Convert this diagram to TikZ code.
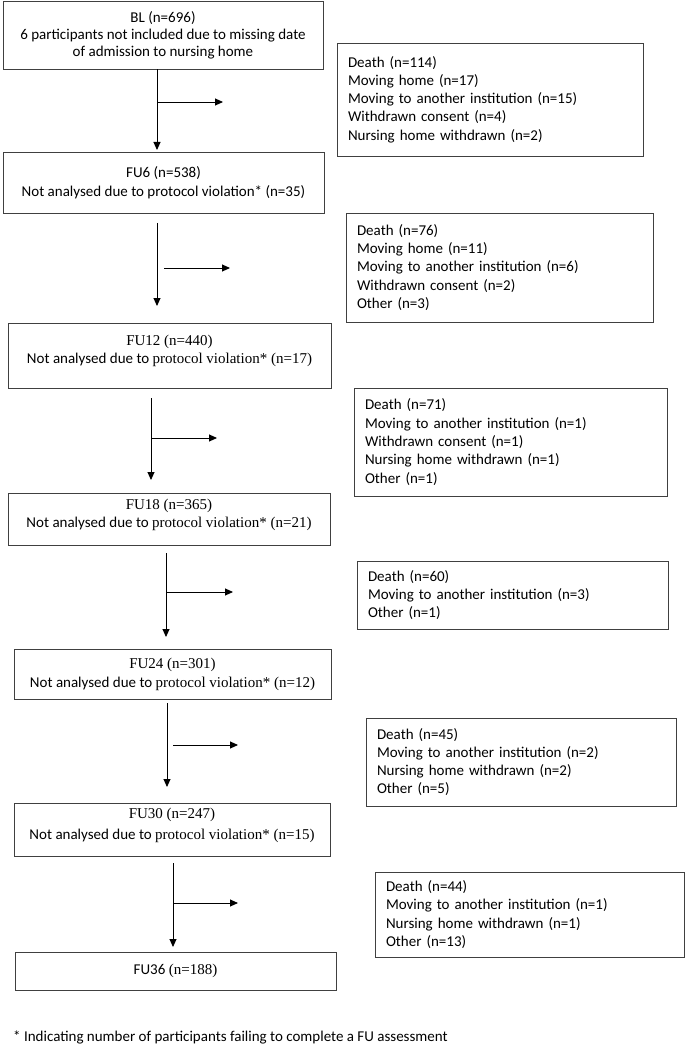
\documentclass[tikz,border=0pt]{standalone}
\usepackage{fontspec}
\setmainfont{Carlito}
\newfontfamily\tms{Liberation Serif}
\usetikzlibrary{arrows.meta,calc}
\begin{document}
\begin{tikzpicture}[x=1pt,y=-1pt,
  mainbox/.style={draw=black!75, line width=0.9pt, rectangle, inner sep=0pt, align=center, font=\fontsize{15}{19}\selectfont},
  outbox/.style={draw=black!75, line width=0.9pt, rectangle, inner xsep=11pt, inner ysep=0pt, align=left, font=\fontsize{15}{18.3}\selectfont},
  arr/.style={line width=0.9pt, -{Triangle[length=8pt,width=7pt]}}]
\useasboundingbox (0,0) rectangle (685,1048);
% main boxes
\node[mainbox, minimum width=320pt, minimum height=68pt, font=\fontsize{15}{17}\selectfont] (bl) at (163,35)
  {BL (n=696)\\6 participants not included due to missing date\\of admission to nursing home};
\node[mainbox, minimum width=321pt, minimum height=61pt] (fu6) at (163.5,182.5)
  {FU6 (n=538)\\Not analysed due to protocol violation* (n=35)};
\node[mainbox, minimum width=323pt, minimum height=65pt, font=\fontsize{15}{17.5}\selectfont] (fu12) at (169.5,355.5)
  {{\tms FU12 (n=440)}\\Not analysed due to {\tms protocol violation* (n=17)}\rule[-12pt]{0pt}{1pt}};
\node[mainbox, minimum width=322pt, minimum height=52pt, font=\fontsize{15}{17.5}\selectfont] (fu18) at (169,519)
  {{\tms FU18 (n=365)}\\Not analysed due to {\tms protocol violation* (n=21)}\rule[-11pt]{0pt}{1pt}};
\node[mainbox, minimum width=317pt, minimum height=50pt] (fu24) at (172.5,674)
  {{\tms FU24 (n=301)}\\Not analysed due to {\tms protocol violation* (n=12)}};
\node[mainbox, minimum width=316pt, minimum height=53pt, font=\fontsize{15}{21}\selectfont] (fu30) at (172,829.5)
  {{\tms FU30 (n=247)}\\Not analysed due to {\tms protocol violation* (n=15)}\rule[-12pt]{0pt}{1pt}};
\node[mainbox, minimum width=321pt, minimum height=38pt] (fu36) at (175.5,971)
  {FU36 {\tms (n=188)}};
% exclusion boxes
\node[outbox, text width=284pt, minimum height=113pt] (d1) at (490,99.5)
  {Death (n=114)\\Moving home (n=17)\\Moving to another institution (n=15)\\Withdrawn consent (n=4)\\Nursing home withdrawn (n=2)};
\node[outbox, text width=285pt, minimum height=109pt] (d2) at (499.5,267.5)
  {Death (n=76)\\Moving home (n=11)\\Moving to another institution (n=6)\\Withdrawn consent (n=2)\\Other (n=3)};
\node[outbox, text width=291pt, minimum height=108pt] (d3) at (510.5,442)
  {Death (n=71)\\Moving to another institution (n=1)\\Withdrawn consent (n=1)\\Nursing home withdrawn (n=1)\\Other (n=1)};
\node[outbox, text width=289pt, minimum height=68pt] (d4) at (512.5,595)
  {Death (n=60)\\Moving to another institution (n=3)\\Other (n=1)};
\node[outbox, text width=288pt, minimum height=88pt] (d5) at (521,762)
  {Death (n=45)\\Moving to another institution (n=2)\\Nursing home withdrawn (n=2)\\Other (n=5)};
\node[outbox, text width=287pt, minimum height=85pt] (d6) at (529.5,914.5)
  {Death (n=44)\\Moving to another institution (n=1)\\Nursing home withdrawn (n=1)\\Other (n=13)};
% footnote
\node[anchor=west, inner sep=0pt, font=\fontsize{15}{17}\selectfont] (note) at (13,1037)
  {* Indicating number of participants failing to complete a FU assessment};
% arrow coordinates
\coordinate (a1e) at (157,150); \coordinate (b1s) at (157,102); \coordinate (b1e) at (223,102);
\coordinate (a2s) at (157,223); \coordinate (a2e) at (157,306); \coordinate (b2s) at (164,268); \coordinate (b2e) at (230,268);
\coordinate (a3s) at (151,398); \coordinate (a3e) at (151,480); \coordinate (b3s) at (151,438); \coordinate (b3e) at (217,438);
\coordinate (a4s) at (166,553); \coordinate (a4e) at (166,637); \coordinate (b4s) at (166,592); \coordinate (b4e) at (233,592);
\coordinate (a5s) at (167,703); \coordinate (a5e) at (167,787); \coordinate (b5s) at (173,745); \coordinate (b5e) at (238,745);
\coordinate (a6s) at (173,863); \coordinate (a6e) at (173,947); \coordinate (b6s) at (173,903); \coordinate (b6e) at (238,903);
% arrows
\draw[arr] (bl.south -| a1e) -- (a1e);
\draw[arr] (b1s) -- (b1e);
\draw[arr] (a2s) -- (a2e);
\draw[arr] (b2s) -- (b2e);
\draw[arr] (a3s) -- (a3e);
\draw[arr] (b3s) -- (b3e);
\draw[arr] (a4s) -- (a4e);
\draw[arr] (b4s) -- (b4e);
\draw[arr] (a5s) -- (a5e);
\draw[arr] (b5s) -- (b5e);
\draw[arr] (a6s) -- (a6e);
\draw[arr] (b6s) -- (b6e);
\end{tikzpicture}
\end{document}
